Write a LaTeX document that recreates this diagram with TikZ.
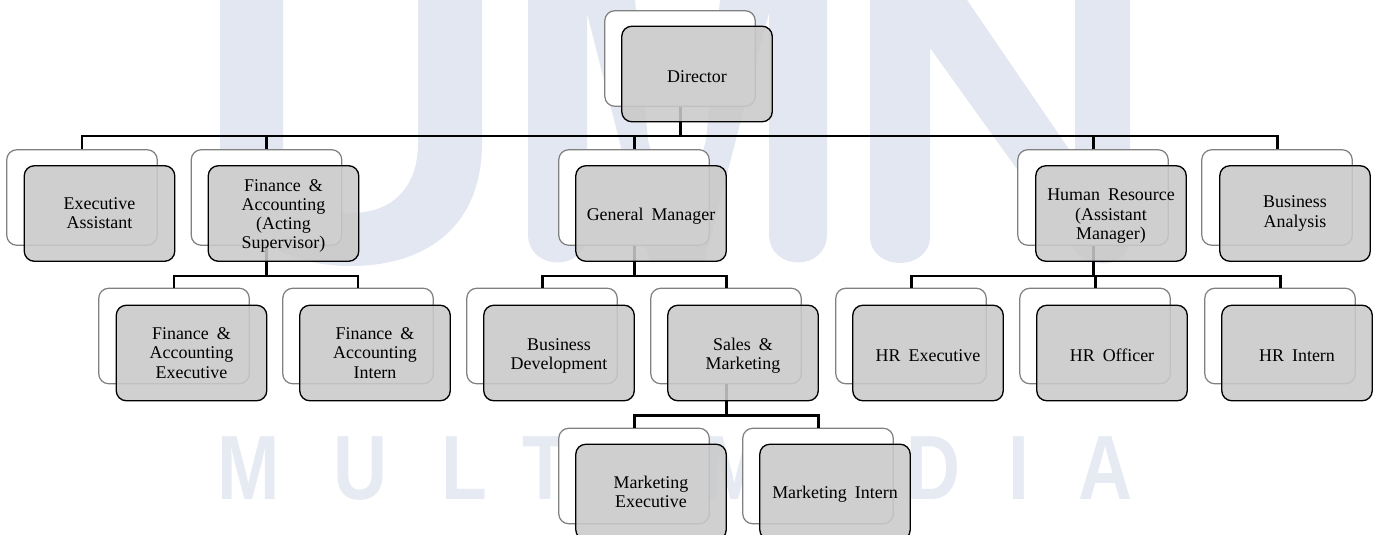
\documentclass[tikz,border=0pt]{standalone}
\usepackage{fontspec}
\setmainfont{Liberation Serif}
\newfontfamily\markfont{Liberation Sans}
\definecolor{umnblue}{RGB}{226,231,241}
\definecolor{markblue}{RGB}{230,234,243}
\newcommand{\markletter}[1]{\scalebox{.82}[1]{#1}}
\newcommand{\boxfont}{\fontsize{10.2}{10.9}\selectfont\spaceskip=.45em\relax}
\newcommand{\lowerline}{\rule{0pt}{9.7pt}}

\begin{document}
\begin{tikzpicture}[
        x=0.02cm, y=-0.02cm,
        backbox/.style={draw=black!50,fill=white,line width=0.7pt,rounded corners=0.2cm,minimum width=3.01cm,minimum height=1.91cm,inner sep=0pt},
        frontbox/.style={draw=black,fill=black!21,fill opacity=0.88,text opacity=1,line width=0.75pt,rounded corners=0.2cm,minimum width=3.01cm,minimum height=1.91cm,inner sep=0pt,align=center,font=\boxfont,execute at begin node={\rule{0pt}{9.9pt}}},
        link/.style={draw=black,line width=1.7pt},
        logopart/.style={fill=umnblue,draw=none},
        markpart/.style={anchor=base,text=markblue,inner sep=0pt,font=\markfont\bfseries\fontsize{52}{52}\selectfont},
      ]
      \useasboundingbox (0,0) rectangle (1378,534);

      % watermark
      \path[logopart] (220,0) -- (220,143) .. controls (220,230) and (280,266) .. (351,266) .. controls (422,266) and (482,230) .. (482,143) -- (482,0) -- (418,0) -- (418,143) .. controls (418,190) and (390,213) .. (351,213) .. controls (312,213) and (283,190) .. (283,143) -- (283,0) -- cycle;
      \path[logopart] (528,0) -- (528,234) .. controls (528,272) and (587,272) .. (587,234) -- (587,13) -- (650,262) -- (704,262) -- (769,13) -- (769,234) .. controls (769,272) and (827,272) .. (827,234) -- (827,0) -- (720,0) -- (706,140) -- (677,250) -- (648,140) -- (635,0) -- cycle;
      \path[logopart] (870,0) -- (870,236) .. controls (870,272) and (930,272) .. (930,236) -- (930,48) -- (1075,250) .. controls (1085,268) and (1130,272) .. (1130,236) -- (1130,0) -- (1075,0) -- (1075,158) -- (967,0) -- cycle;

      \node[markpart] (markm) at (249,499) {\markletter{M}};
      \node[markpart] (marku) at (361,499) {\markletter{U}};
      \node[markpart] (markl) at (464,499) {\markletter{L}};
      \node[markpart] (markt) at (545,499) {\markletter{T}};
      \node[markpart] (markn) at (735,499) {\markletter{M}};
      \node[markpart] (markd) at (934,499) {\markletter{D}};
      \node[markpart] (markj) at (1019,499) {\markletter{I}};
      \node[markpart] (marka) at (1106,499) {\markletter{A}};

      % back boxes
      \node[backbox] (dirback) at (680,58.5) {};
      \node[backbox] (execback) at (82,197.5) {};
      \node[backbox] (finback) at (266.5,197.5) {};
      \node[backbox] (gmback) at (634,197.5) {};
      \node[backbox] (hrback) at (1093,197.5) {};
      \node[backbox] (baback) at (1277,197.5) {};
      \node[backbox] (faeback) at (174,336) {};
      \node[backbox] (faiback) at (358,336) {};
      \node[backbox] (bdback) at (542,336) {};
      \node[backbox] (smback) at (726,336) {};
      \node[backbox] (hreback) at (911,336) {};
      \node[backbox] (hroback) at (1095,336) {};
      \node[backbox] (hriback) at (1280,336) {};
      \node[backbox] (meback) at (634,476) {};
      \node[backbox] (miback) at (818,476) {};

      % connectors
      \coordinate (dirbus) at (680,136);
      \coordinate (finbus) at (266.5,276);
      \coordinate (gmbus) at (634,276);
      \coordinate (hrbus) at (1093,276);
      \coordinate (smbus) at (726,415);

      \draw[link] (dirback.south) -- (dirbus) -| (execback.north);
      \draw[link] (dirbus) -| (finback.north);
      \draw[link] (dirbus) -| (gmback.north);
      \draw[link] (dirbus) -| (hrback.north);
      \draw[link] (dirbus) -| (baback.north);
      \draw[link] (finback.south) -- (finbus) -| (faeback.north);
      \draw[link] (finbus) -| (faiback.north);
      \draw[link] (gmback.south) -- (gmbus) -| (bdback.north);
      \draw[link] (gmbus) -| (smback.north);
      \draw[link] (hrback.south) -- (hrbus) -| (hreback.north);
      \draw[link] (hrbus) -| (hroback.north);
      \draw[link] (hrbus) -| (hriback.north);
      \draw[link] (smback.south) -- (smbus) -| (meback.north);
      \draw[link] (smbus) -| (miback.north);

      % front boxes
      \node[frontbox] (dirfront) at (697,74) {Director};
      \node[frontbox] (execfront) at (99.5,213.5) {Executive\\Assistant};
      \node[frontbox] (finfront) at (283.5,213.5) {\lowerline Finance \&\\Accounting\\(Acting\\Supervisor)};
      \node[frontbox] (gmfront) at (651,213.5) {General Manager};
      \node[frontbox] (hrfront) at (1111,213.5) {\lowerline Human Resource\\(Assistant\\Manager)};
      \node[frontbox] (bafront) at (1295,213.5) {Business\\Analysis};
      \node[frontbox] (faefront) at (191.5,353) {Finance \&\\Accounting\\Executive};
      \node[frontbox] (faifront) at (375,353) {Finance \&\\Accounting\\Intern};
      \node[frontbox] (bdfront) at (559,353) {\lowerline Business\\Development};
      \node[frontbox] (smfront) at (743,353) {\lowerline Sales \&\\Marketing};
      \node[frontbox] (hrefront) at (928,353) {HR Executive};
      \node[frontbox] (hrofront) at (1112,353) {HR Officer};
      \node[frontbox] (hrifront) at (1297,353) {HR Intern};
      \node[frontbox] (mefront) at (651,492) {Marketing\\Executive};
      \node[frontbox] (mifront) at (835,492) {Marketing Intern};

    \end{tikzpicture}
\end{document}
